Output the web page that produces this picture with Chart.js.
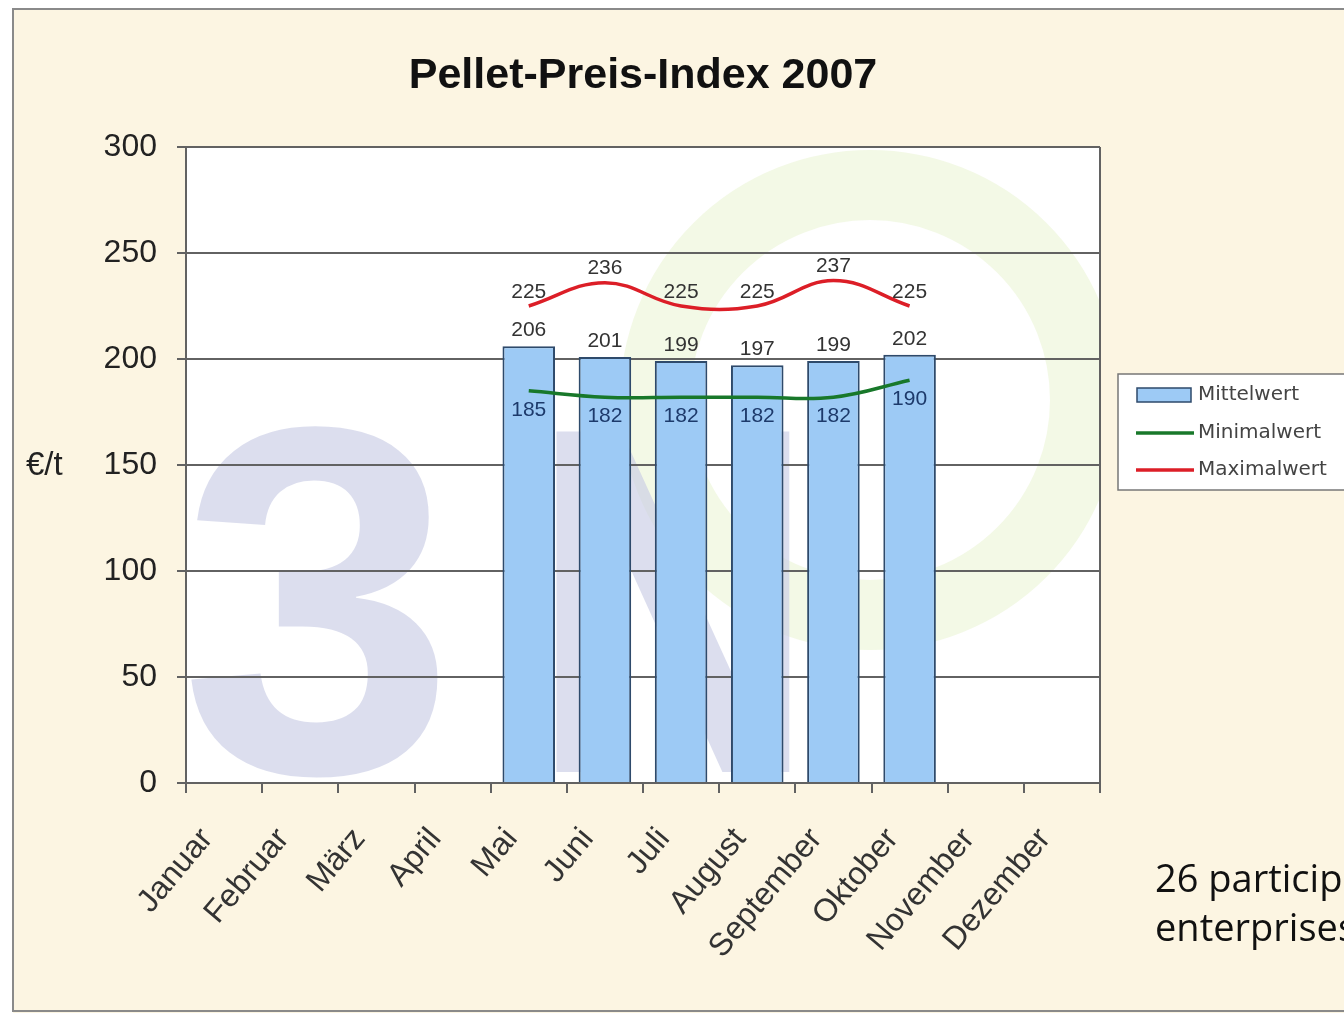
<!DOCTYPE html>
<html>
<head>
<meta charset="utf-8">
<script src="https://cdn.jsdelivr.net/npm/chart.js@4.4.0/dist/chart.umd.min.js"></script>
<style>
  html, body { margin: 0; padding: 0; background: #fff; }
  #wrap { position: relative; width: 1344px; height: 1013px; overflow: hidden; }
  #note {
    position: absolute; left: 1155px; top: 853px;
    font: 38px "Open Sans", sans-serif; line-height: 49px;
    color: #111; white-space: nowrap;
  }
</style>
</head>
<body>
<div id="wrap">
  <canvas id="priceChart" width="1344" height="1013"></canvas>
  <div id="note">26 participating<br>enterprises</div>
</div>
<script>
const months = ["Januar", "Februar", "März", "April", "Mai", "Juni", "Juli",
  "August", "September", "Oktober", "November", "Dezember"];
const mittelwert = [null, null, null, null, 206, 201, 199, 197, 199, 202, null, null];
const minimalwert = [null, null, null, null, 185, 182, 182, 182, 182, 190, null, null];
const maximalwert = [null, null, null, null, 225, 236, 225, 225, 237, 225, null, null];

const FONT = "Arial, 'Liberation Sans', sans-serif";
const GRID = "#626262";
const BAR_FILL = "#9dcaf5";
const BAR_EDGE = "#2e4a6b";
const RED = "#dc1e27";
const GREEN = "#18782a";

// cream frame, white plot area and the faint logo behind it
const backdrop = {
  id: "backdrop",
  beforeDraw(chart) {
    const c = chart.ctx;
    const a = chart.chartArea;
    c.save();
    c.fillStyle = "#ffffff";
    c.fillRect(0, 0, chart.width, chart.height);
    c.fillStyle = "#fcf5e2";
    c.fillRect(13, 9, chart.width + 20, chart.height);
    c.strokeStyle = "#8a8a8a";
    c.lineWidth = 2;
    c.strokeRect(13, 9, chart.width + 20, chart.height - 11);

    c.fillStyle = "#ffffff";
    c.fillRect(a.left, a.top, a.right - a.left, a.bottom - a.top);
    c.beginPath();
    c.rect(a.left, a.top, a.right - a.left, a.bottom - a.top);
    c.clip();
    c.strokeStyle = "rgba(232, 243, 205, 0.5)";
    c.lineWidth = 70;
    c.beginPath();
    c.arc(870, 400, 215, 0, Math.PI * 2);
    c.stroke();
    c.fillStyle = "rgba(198, 202, 228, 0.62)";
    c.font = "bold 495px " + FONT;
    c.textBaseline = "alphabetic";
    c.fillText("3", 180, 772);
    c.translate(530, 772);
    c.scale(0.8, 1);
    c.fillText("N", 0, 0);
    c.restore();
  },
  afterDraw(chart) {
    const c = chart.ctx;
    const a = chart.chartArea;
    c.save();
    // right edge of the plot area
    c.strokeStyle = GRID;
    c.lineWidth = 2;
    c.beginPath();
    c.moveTo(a.right, a.top);
    c.lineTo(a.right, a.bottom);
    c.stroke();

    // y unit
    c.fillStyle = "#222";
    c.font = "33px " + FONT;
    c.textBaseline = "middle";
    c.textAlign = "left";
    c.fillText("€/t", 26, 466);

    // legend
    c.fillStyle = "#ffffff";
    c.fillRect(1118, 374, 260, 116);
    c.strokeStyle = "#777";
    c.lineWidth = 1.5;
    c.strokeRect(1118, 374, 260, 116);
    c.fillStyle = BAR_FILL;
    c.fillRect(1137, 388, 54, 14);
    c.strokeStyle = BAR_EDGE;
    c.strokeRect(1137, 388, 54, 14);
    [[GREEN, 433], [RED, 470]].forEach(([col, y]) => {
      c.strokeStyle = col;
      c.lineWidth = 3.5;
      c.beginPath();
      c.moveTo(1136, y);
      c.lineTo(1194, y);
      c.stroke();
    });
    c.fillStyle = "#444";
    c.font = "20px 'DejaVu Sans', sans-serif";
    c.fillText("Mittelwert", 1198, 395);
    c.fillText("Minimalwert", 1198, 433);
    c.fillText("Maximalwert", 1198, 470);
    c.restore();
  }
};

// value labels next to the bars and lines
const valueLabels = {
  id: "valueLabels",
  afterDatasetsDraw(chart) {
    const c = chart.ctx;
    c.save();
    c.font = "21px " + FONT;
    c.textAlign = "center";
    c.textBaseline = "middle";
    chart.data.datasets.forEach((ds, i) => {
      const meta = chart.getDatasetMeta(i);
      meta.data.forEach((el, j) => {
        const v = ds.data[j];
        if (v == null) return;
        let dy = -16;
        c.fillStyle = "#333";
        if (ds.label === "Minimalwert") { dy = 19; c.fillStyle = "#1d3a6b"; }
        if (ds.label === "Maximalwert") dy = -14;
        c.fillText(String(v), el.x, el.y + dy);
      });
    });
    c.restore();
  }
};

new Chart(document.getElementById("priceChart"), {
  type: "bar",
  data: {
    labels: months,
    datasets: [
      {
        type: "line", label: "Maximalwert", data: maximalwert,
        borderColor: RED, borderWidth: 3.5, pointRadius: 0, tension: 0.4,
        fill: false, order: 1
      },
      {
        type: "line", label: "Minimalwert", data: minimalwert,
        borderColor: GREEN, borderWidth: 3.5, pointRadius: 0, tension: 0.4,
        fill: false, order: 1
      },
      {
        type: "bar", label: "Mittelwert", data: mittelwert,
        backgroundColor: BAR_FILL, borderColor: BAR_EDGE, borderWidth: 2,
        barPercentage: 0.69, categoryPercentage: 1, order: 2
      }
    ]
  },
  options: {
    responsive: false,
    animation: false,
    layout: { padding: { left: 0, right: 244, top: 20, bottom: 0 } },
    plugins: {
      legend: { display: false },
      tooltip: { enabled: false },
      title: {
        display: true,
        text: "Pellet-Preis-Index 2007",
        fullSize: false,
        color: "#111",
        font: { family: FONT, size: 43, weight: "bold" },
        padding: { top: 30, bottom: 45.4 }
      }
    },
    scales: {
      x: {
        afterFit: s => { s.height = 230; },
        grid: { offset: true, drawOnChartArea: false, drawTicks: true, tickLength: 10, color: GRID, lineWidth: 2 },
        border: { color: GRID, width: 2 },
        ticks: {
          color: "#333", font: { family: FONT, size: 32 },
          minRotation: 50, maxRotation: 50, autoSkip: false,
          padding: 28, labelOffset: -17
        }
      },
      y: {
        min: 0, max: 300,
        afterFit: s => { s.width = 186; },
        grid: { color: GRID, lineWidth: 2, tickLength: 9 },
        border: { color: GRID, width: 2 },
        ticks: { stepSize: 50, color: "#222", font: { family: FONT, size: 32 }, padding: 20 }
      }
    }
  },
  plugins: [backdrop, valueLabels]
});
</script>
</body>
</html>
